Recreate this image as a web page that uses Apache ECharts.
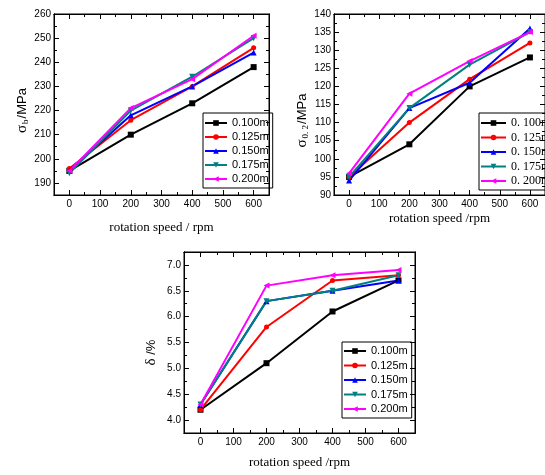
<!DOCTYPE html>
<html>
<head>
<meta charset="utf-8">
<script src="https://cdn.jsdelivr.net/npm/echarts@6/dist/echarts.min.js"></script>
<style>
  html, body { margin: 0; padding: 0; background: #fff; }
  #chart { width: 545px; height: 475px; }
</style>
</head>
<body>
<div id="chart"></div>
<script>
const speeds = [0, 200, 400, 600]
const widths = ['0.100m', '0.125m', '0.150m', '0.175m', '0.200m']
const widthsSerif = ['0. 100m', '0. 125m', '0. 150m', '0. 175m', '0. 200m']

// 抗拉强度 σb (MPa)
const tensile = [
  [195, 210, 223, 238],
  [196, 216, 230, 246],
  [195, 218, 230, 244],
  [194, 220, 234, 250],
  [195, 221, 233, 251]
]
// 屈服强度 σ0.2 (MPa)
const yieldStr = [
  [95, 104, 120, 128],
  [95, 110, 122, 132],
  [94, 114, 121, 136],
  [95, 114, 126, 135],
  [96, 118, 127, 135]
]
// 延伸率 δ (%)
const elong = [
  [4.2, 5.1, 6.1, 6.7],
  [4.2, 5.8, 6.7, 6.8],
  [4.3, 6.3, 6.5, 6.7],
  [4.3, 6.3, 6.5, 6.8],
  [4.3, 6.6, 6.8, 6.9]
]

const xMajor = [0, 100, 200, 300, 400, 500, 600]
const xMinor = [50, 150, 250, 350, 450, 550]
const y1Major = [190, 200, 210, 220, 230, 240, 250, 260]
const y1Minor = [185, 195, 205, 215, 225, 235, 245, 255]
const y2Major = [90, 95, 100, 105, 110, 115, 120, 125, 130, 135, 140]
const y2Minor = [92.5, 97.5, 102.5, 107.5, 112.5, 117.5, 122.5, 127.5, 132.5, 137.5]
const y3Major = [4.0, 4.5, 5.0, 5.5, 6.0, 6.5, 7.0]
const y3Minor = [4.25, 4.75, 5.25, 5.75, 6.25, 6.75]

const colors = ['#000000', '#ff0000', '#0000ff', '#008080', '#ff00ff']
const symbols = ['rect', 'circle', 'triangle', 'path://M0,0 L10,0 L5,10 Z', 'path://M0,5 L10,0 L10,10 Z']

const sans = 'Liberation Sans, Arial, sans-serif'
const serif = 'Liberation Serif, Times New Roman, serif'

const chart = echarts.init(document.getElementById('chart'))

const grids = [
  { left: 54, top: 14, width: 215, height: 181 },
  { left: 334, top: 14, width: 214, height: 181 },
  { left: 184, top: 252, width: 231, height: 181 }
]

const plain = { axisLine: { onZero: false, lineStyle: { color: '#000', width: 1 } }, splitLine: { show: false } }

// 主轴（带标签）+ 次刻度 + 对侧镜像刻度，仿 Origin 的四边框
const mainX = (g, name, gap) => ({
  ...plain, gridIndex: g, type: 'value', min: -50, max: 650, position: 'bottom',
  axisTick: { inside: true, length: 5, customValues: xMajor },
  axisLabel: { customValues: xMajor, color: '#000', fontFamily: sans, fontSize: 10, margin: 4 },
  name, nameLocation: 'middle', nameGap: gap,
  nameTextStyle: { fontFamily: serif, fontSize: 13, color: '#000' }
})
const extraX = (g, pos, ticks, len) => ({
  ...plain, gridIndex: g, type: 'value', min: -50, max: 650, position: pos,
  axisTick: { inside: true, length: len, customValues: ticks }, axisLabel: { show: false }
})
const mainY = (g, min, max, major, fmt, name, gap, pad) => ({
  ...plain, gridIndex: g, type: 'value', min, max, position: 'left',
  axisTick: { inside: true, length: 5, customValues: major },
  axisLabel: { customValues: major, color: '#000', fontFamily: sans, fontSize: 10, margin: 3, formatter: fmt },
  name, nameLocation: 'middle', nameGap: gap,
  nameTextStyle: {
    color: '#000', padding: pad,
    rich: {
      g: { fontFamily: serif, fontSize: 15, color: '#000' },
      s: { fontFamily: serif, fontSize: 9, color: '#000', padding: [7, 1, 0, 1] },
      t: { fontFamily: sans, fontSize: 13, color: '#000' }
    }
  }
})
const extraY = (g, min, max, pos, ticks, len) => ({
  ...plain, gridIndex: g, type: 'value', min, max, position: pos,
  axisTick: { inside: true, length: len, customValues: ticks }, axisLabel: { show: false }
})

const xAxis = [
  mainX(0, 'rotation speed / rpm', 26),
  mainX(1, 'rotation speed /rpm', 17),
  mainX(2, 'rotation speed /rpm', 23)
]
const yAxis = [
  mainY(0, 185, 260, y1Major, (v) => v, '{g|σ}{s|b}{t|/MPa}', 22, [0, 12, 0, 0]),
  mainY(1, 90, 140, y2Major, (v) => v, '{g|σ}{s|0. 2}{t|/MPa}', 22, [0, 32, 0, 0]),
  mainY(2, 3.75, 7.25, y3Major, (v) => v.toFixed(1), '{g|δ}{t| /%}', 25, [0, 20, 0, 0])
]
const yRanges = [[185, 260, y1Major, y1Minor], [90, 140, y2Major, y2Minor], [3.75, 7.25, y3Major, y3Minor]]
for (let g = 0; g < 3; g++) {
  xAxis.push(extraX(g, 'bottom', xMinor, 3), extraX(g, 'top', xMajor, 5), extraX(g, 'top', xMinor, 3))
  const [mn, mx, major, minor] = yRanges[g]
  yAxis.push(extraY(g, mn, mx, 'left', minor, 3), extraY(g, mn, mx, 'right', major, 5), extraY(g, mn, mx, 'right', minor, 3))
}

const series = []
const datasets = [tensile, yieldStr, elong]
datasets.forEach((rows, g) => {
  rows.forEach((vals, i) => {
    series.push({
      name: g === 1 ? widthsSerif[i] : widths[i],
      type: 'line', xAxisIndex: g, yAxisIndex: g,
      symbol: symbols[i], symbolSize: i === 1 ? 5 : 6,
      lineStyle: { width: 2, color: colors[i] },
      itemStyle: { color: colors[i] },
      data: speeds.map((s, k) => [s, vals[k]])
    })
  })
})

const legendBase = {
  orient: 'vertical', itemWidth: 22, itemHeight: 7, itemGap: 2,
  borderColor: '#000', borderWidth: 1, borderRadius: 0,
  selectedMode: false
}

chart.setOption({
  animation: false,
  backgroundColor: '#fff',
  grid: grids.map((g) => ({ ...g, show: true, borderColor: '#000', borderWidth: 1, backgroundColor: 'transparent' })),
  legend: [
    { ...legendBase, left: 203, top: 113, padding: [4, 4, 3, 1], data: widths,
      textStyle: { fontFamily: sans, fontSize: 11, color: '#000', lineHeight: 12 } },
    { ...legendBase, left: 479, top: 113, padding: [4, 3, 3, 1], itemWidth: 25, itemGap: 2.5, data: widthsSerif,
      textStyle: { fontFamily: serif, fontSize: 12, color: '#000', lineHeight: 12 } },
    { ...legendBase, left: 342, top: 342, padding: [3, 4, 3, 1], itemGap: 2.5, data: widths,
      textStyle: { fontFamily: sans, fontSize: 11, color: '#000', lineHeight: 12 } }
  ],
  xAxis,
  yAxis,
  series
})
</script>
</body>
</html>
